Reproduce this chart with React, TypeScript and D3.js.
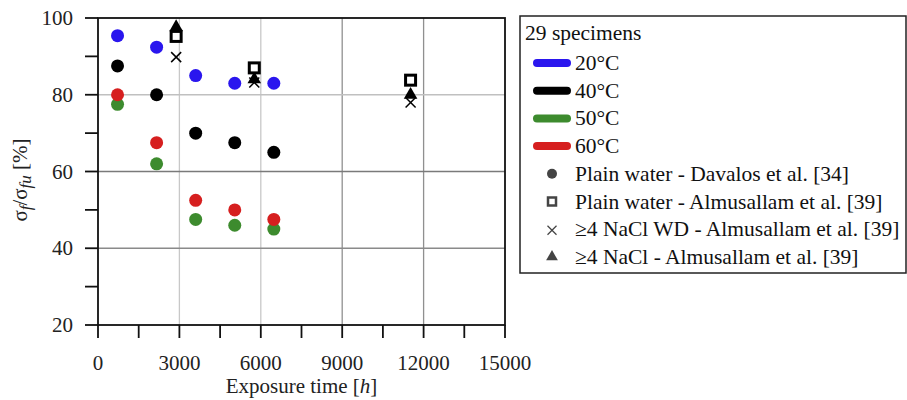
import React from "react";
import * as d3 from "d3";

const temps = ["20°C", "40°C", "50°C", "60°C"];
const tempColors = ["#2a16ee", "#000000", "#3d8b2e", "#d61f1f"];
const davalosTimes = [720, 2160, 3600, 5040, 6480];
const davalos20 = [95.4, 92.4, 85, 83, 83];
const davalos40 = [87.5, 80, 70, 67.5, 65];
const davalos50 = [77.5, 62, 47.5, 46, 45];
const davalos60 = [80, 67.5, 52.5, 50, 47.5];
const almTimes = [2880, 5760, 11520];
const almPlain = [95.2, 87, 83.8];
const almWD = [89.8, 83.2, 78];
const almNaCl = [97.6, 84, 80];
const xTicks = [0, 3000, 6000, 9000, 12000, 15000];
const yTicks = [20, 40, 60, 80, 100];
const legendMarkers = [
  "Plain water - Davalos et al. [34]",
  "Plain water - Almusallam et al. [39]",
  "≥4 NaCl WD - Almusallam et al. [39]",
  "≥4 NaCl - Almusallam et al. [39]",
];

const W = 907, H = 400;
const L = 98, R = 505, T = 18, B = 325;
const FONT = "'Liberation Serif', 'Times New Roman', serif";
const FS = 21;

export default function App() {
  const x = d3.scaleLinear().domain([0, 15000]).range([L, R]);
  const y = d3.scaleLinear().domain([20, 100]).range([B, T]);
  const series = [davalos20, davalos40, davalos50, davalos60];
  const minorX = d3.range(0, 15001, 1500);
  const minorY = d3.range(20, 101, 10);
  const tri = d3.symbol().type(d3.symbolTriangle).size(80)() as string;
  const triSmall = d3.symbol().type(d3.symbolTriangle).size(60)() as string;
  const gridX = [3000, 6000, 9000, 12000];
  const gridY = [40, 60, 80];
  const gridColX = ["#c8c8c8", "#c8c8c8", "#909090", "#909090"];
  const gridColY = ["#8a8a8a", "#7a7a7a", "#c0c0c0"];

  const cross = (cx: number, cy: number, s: number, color: string, sw: number, key: string) => (
    <g key={key} stroke={color} strokeWidth={sw}>
      <line x1={cx - s} y1={cy - s} x2={cx + s} y2={cy + s} />
      <line x1={cx - s} y1={cy + s} x2={cx + s} y2={cy - s} />
    </g>
  );

  const rowY0 = 63;
  const rowStep = 27.7;

  return (
    <svg width={W} height={H} style={{ position: "absolute", left: 0, top: 0, background: "#fff" }} fontFamily={FONT}>
      <rect x={0} y={0} width={W} height={H} fill="#fff" />
      {gridX.map((v, i) => (
        <line key={"gx" + v} x1={x(v)} x2={x(v)} y1={T} y2={B} stroke={gridColX[i]} strokeWidth={1.3} />
      ))}
      {gridY.map((v, i) => (
        <line key={"gy" + v} x1={L} x2={R} y1={y(v)} y2={y(v)} stroke={gridColY[i]} strokeWidth={1.3} />
      ))}
      <rect x={L} y={T} width={R - L} height={B - T} fill="none" stroke="#111" strokeWidth={1.8} />
      {minorX.map((v) => (
        <line key={"tx" + v} x1={x(v)} x2={x(v)} y1={B} y2={B + 13} stroke="#111" strokeWidth={1.8} />
      ))}
      {minorY.map((v) => (
        <line key={"ty" + v} x1={L - 13} x2={L} y1={y(v)} y2={y(v)} stroke="#111" strokeWidth={1.8} />
      ))}
      {xTicks.map((v) => (
        <text key={"xl" + v} x={x(v)} y={370} textAnchor="middle" fontSize={FS} fill="#222">{v}</text>
      ))}
      {yTicks.map((v) => (
        <text key={"yl" + v} x={73} y={y(v) + 7} textAnchor="end" fontSize={FS} fill="#222">{v}</text>
      ))}
      <text x={(L + R) / 2} y={393} textAnchor="middle" fontSize={FS} fill="#222">
        Exposure time [<tspan fontStyle="italic">h</tspan>]
      </text>
      <text transform={`translate(27, ${180}) rotate(-90)`} textAnchor="middle" fontSize={FS} fill="#222">
        σ<tspan fontStyle="italic" fontSize={17} dy={4}>f</tspan>
        <tspan dy={-4}>/σ</tspan>
        <tspan fontStyle="italic" fontSize={17} dy={4}>fu</tspan>
        <tspan dy={-4}> [%]</tspan>
      </text>

      {series.map((vals, si) =>
        vals.map((v, i) => (
          <circle key={`c${si}-${i}`} cx={x(davalosTimes[i])} cy={y(v)} r={6.5} fill={tempColors[si]} />
        ))
      )}
      {almNaCl.map((v, i) => (
        <path key={"tr" + i} d={tri} transform={`translate(${x(almTimes[i])},${y(v)})`} fill="#000" />
      ))}
      {almPlain.map((v, i) => (
        <rect key={"sq" + i} x={x(almTimes[i]) - 5} y={y(v) - 5} width={10} height={10} fill="#fff" stroke="#000" strokeWidth={3} />
      ))}
      {almWD.map((v, i) => cross(x(almTimes[i]), y(v), 5, "#000", 1.5, "x" + i))}

      <rect x={520} y={16} width={386} height={257} fill="#fff" stroke="#222" strokeWidth={1.5} />
      <text x={525} y={40} fontSize={21.5} fill="#111">29 specimens</text>
      {temps.map((t, i) => (
        <g key={"lt" + i}>
          <line x1={537} x2={567} y1={rowY0 + i * rowStep} y2={rowY0 + i * rowStep} stroke={tempColors[i]} strokeWidth={8} strokeLinecap="round" />
          <text x={575} y={rowY0 + i * rowStep + 7} fontSize={21.5} fill="#111">{t}</text>
        </g>
      ))}
      {legendMarkers.map((t, i) => {
        const cy = rowY0 + (i + 4) * rowStep;
        const cx = 552;
        let sym: React.ReactNode = null;
        if (i === 0) sym = <circle cx={cx} cy={cy} r={5} fill="#444" />;
        if (i === 1) sym = <rect x={cx - 4} y={cy - 4} width={8} height={8} fill="#fff" stroke="#444" strokeWidth={2.5} />;
        if (i === 2) sym = cross(cx, cy + 1, 4.5, "#444", 1.3, "lx");
        if (i === 3) sym = <path d={triSmall} transform={`translate(${cx},${cy})`} fill="#444" />;
        return (
          <g key={"lm" + i}>
            {sym}
            <text x={575} y={cy + 7} fontSize={21.5} fill="#111">{t}</text>
          </g>
        );
      })}
    </svg>
  );
}
